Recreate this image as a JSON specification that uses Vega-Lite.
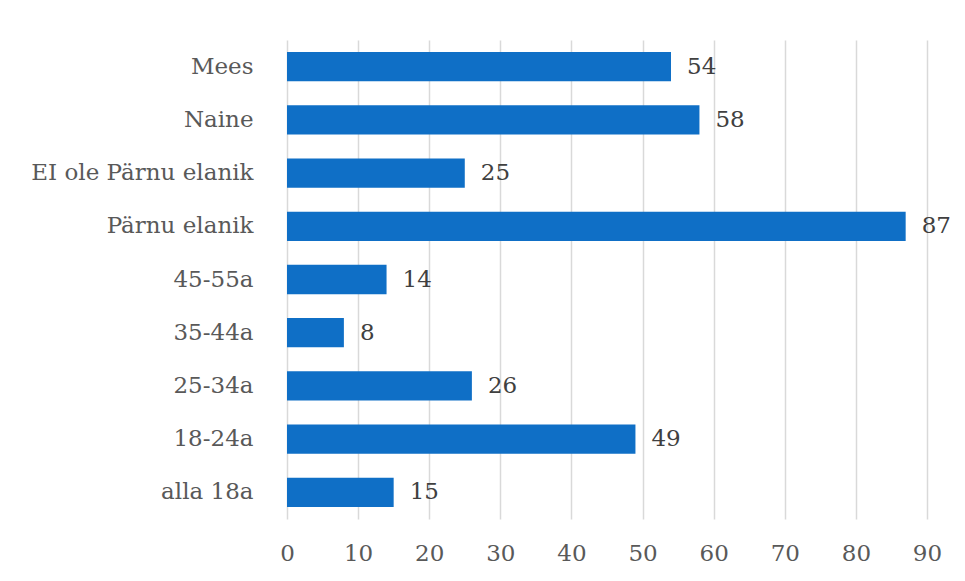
{
  "$schema": "https://vega.github.io/schema/vega-lite/v6.json",
  "autosize": {"type": "none"},
  "width": 640,
  "height": 479,
  "padding": {"left": 287, "top": 40, "right": 38, "bottom": 62},
  "background": "white",
  "config": {
    "view": {"stroke": null},
    "font": "DejaVu Serif",
    "axis": {"labelFont": "DejaVu Serif"},
    "text": {"font": "DejaVu Serif"}
  },
  "data": {
    "values": [
      {"group": "Mees", "count": 54},
      {"group": "Naine", "count": 58},
      {"group": "EI ole Pärnu elanik", "count": 25},
      {"group": "Pärnu elanik", "count": 87},
      {"group": "45-55a", "count": 14},
      {"group": "35-44a", "count": 8},
      {"group": "25-34a", "count": 26},
      {"group": "18-24a", "count": 49},
      {"group": "alla 18a", "count": 15}
    ]
  },
  "encoding": {
    "y": {
      "field": "group",
      "type": "nominal",
      "sort": null,
      "title": null,
      "scale": {"paddingInner": 0.45, "paddingOuter": 0.225},
      "axis": {
        "domain": false,
        "ticks": false,
        "grid": false,
        "labelFontSize": 23,
        "labelColor": "#595959",
        "labelPadding": 34,
        "labelLimit": 300
      }
    },
    "x": {
      "field": "count",
      "type": "quantitative",
      "title": null,
      "scale": {"domain": [0, 90], "nice": false},
      "axis": {
        "values": [0, 10, 20, 30, 40, 50, 60, 70, 80, 90],
        "domain": false,
        "ticks": false,
        "grid": true,
        "gridColor": "#d9d9d9",
        "gridWidth": 1.5,
        "labelFontSize": 23,
        "labelColor": "#595959",
        "labelPadding": 23,
        "labelFlush": false
      }
    }
  },
  "layer": [
    {"mark": {"type": "bar", "color": "#0F6FC6"}},
    {
      "mark": {"type": "text", "align": "left", "baseline": "middle", "dx": 16, "fontSize": 23, "color": "#404040", "font": "DejaVu Serif"},
      "encoding": {"text": {"field": "count", "type": "quantitative"}}
    }
  ]
}
